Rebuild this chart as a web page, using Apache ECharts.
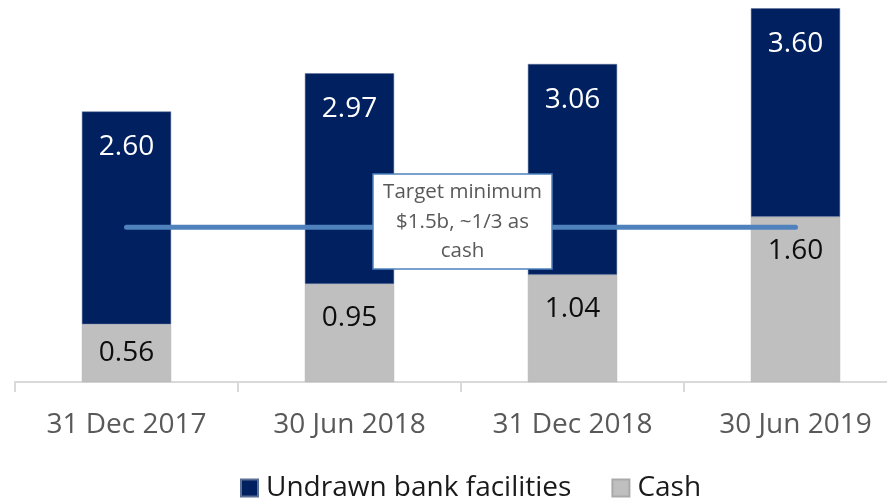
<!DOCTYPE html>
<html>
<head>
<meta charset="utf-8">
<script src="https://cdn.jsdelivr.net/npm/echarts@6/dist/echarts.min.js"></script>
<style>
  html, body { margin: 0; padding: 0; background: #fff; overflow: hidden; }
  /* the source picture is cropped on the right, so the chart is a bit wider than the window */
  #chart { width: 907px; height: 500px; }
</style>
</head>
<body>
<div id="chart"></div>
<script>
// liquidity by reporting date ($b)
const categories = ["31 Dec 2017", "30 Jun 2018", "31 Dec 2018", "30 Jun 2019"];
const cash = [0.56, 0.95, 1.04, 1.60];
// labelled undrawn facilities
const undrawn = [2.60, 2.97, 3.06, 3.60];
// undrawn bars are not drawn to scale in the source; heights
const undrawnBar = [2.06, 2.04, 2.04, 2.02];
const target = [1.5, 1.5, 1.5, 1.5];
const targetText = "Target minimum\n$1.5b, ~1/3 as\ncash";

const FONT = "Open Sans";
const chart = echarts.init(document.getElementById("chart"));

const cashData = cash.map((v, i) => {
  const item = { value: v };
  if (i === 0) item.label = { distance: 15 }; // short bar, label sits higher
  return item;
});

chart.setOption({
  animation: false,
  textStyle: { fontFamily: FONT },
  grid: { left: 15, right: 0, top: 0, bottom: 118 },
  legend: {
    data: ["Undrawn bank facilities", "Cash"],
    left: 240,
    top: 474,
    padding: 0,
    itemWidth: 17,
    itemHeight: 17,
    itemGap: 40,
    icon: "rect",
    textStyle: { fontSize: 28, color: "#1a1a1a", fontFamily: FONT, padding: [0, 0, 0, 3] }
  },
  xAxis: {
    type: "category",
    data: categories,
    axisLine: { lineStyle: { color: "#D9D9D9", width: 2 } },
    axisTick: { show: true, length: 10, lineStyle: { color: "#D9D9D9", width: 2 } },
    axisLabel: { fontSize: 28, color: "#595959", margin: 29, fontFamily: FONT }
  },
  yAxis: {
    type: "value",
    min: 0,
    max: 3.7,
    show: false,
    splitLine: { show: false }
  },
  series: [
    {
      name: "Cash",
      type: "bar",
      stack: "total",
      barWidth: "40%",
      data: cashData,
      itemStyle: { color: "#BFBFBF", borderColor: "#A9A9A9", borderWidth: 0.5 },
      label: {
        show: true,
        position: "insideTop",
        distance: 20,
        fontSize: 28,
        color: "#0d0d0d",
        fontFamily: FONT,
        formatter: p => p.value.toFixed(2)
      }
    },
    {
      name: "Undrawn bank facilities",
      type: "bar",
      stack: "total",
      barWidth: "40%",
      data: undrawnBar,
      itemStyle: { color: "#002060", borderColor: "#5A6E96", borderWidth: 0.5 },
      label: {
        show: true,
        position: "insideTop",
        distance: 22,
        fontSize: 28,
        color: "#ffffff",
        fontFamily: FONT,
        formatter: p => undrawn[p.dataIndex].toFixed(2)
      }
    },
    {
      name: "Target",
      type: "line",
      data: target,
      symbol: "none",
      z: 5,
      lineStyle: { color: "#4F81BD", width: 5, cap: "round" }
    }
  ],
  graphic: [
    {
      type: "rect",
      z: 100,
      zlevel: 1,
      shape: { x: 373, y: 174, width: 179, height: 95 },
      style: { fill: "#ffffff", stroke: "#4F81BD", lineWidth: 1.5 }
    },
    {
      type: "text",
      z: 101,
      zlevel: 1,
      x: 462.5,
      y: 222,
      style: {
        text: targetText,
        fontFamily: FONT,
        fontSize: 20.5,
        lineHeight: 29.5,
        fill: "#595959",
        align: "center",
        verticalAlign: "middle"
      }
    }
  ]
});
</script>
</body>
</html>
